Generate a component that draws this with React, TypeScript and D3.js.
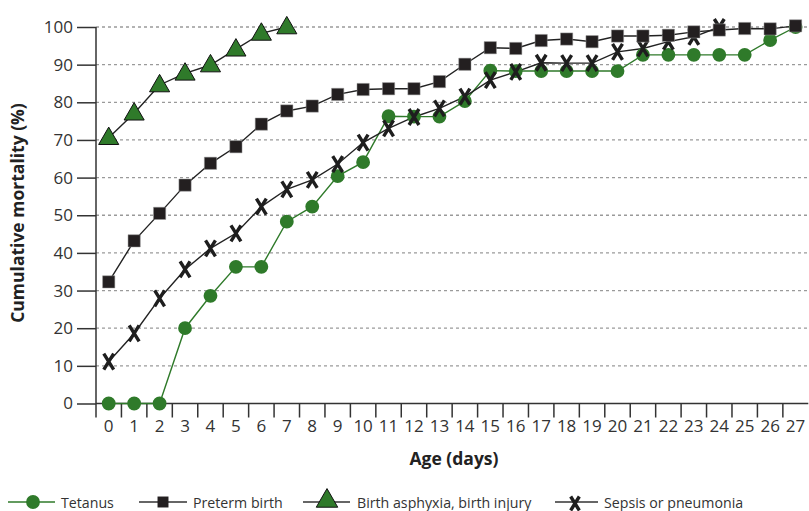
import * as d3 from 'd3';
import { useEffect, useRef } from 'react';

// Age in days, 0..27
const days = d3.range(0, 28);

// Cumulative mortality (%) per cause
const tetanus = [0, 0, 0, 20, 28.6, 36.3, 36.3, 48.3, 52.3, 60.4, 64.1, 76.3, 76.2, 76.2, 80.3, 88.4, 88.3, 88.3, 88.3, 88.3, 88.3, 92.6, 92.6, 92.6, 92.6, 92.6, 96.5, 100];
const preterm = [32.3, 43.2, 50.5, 58, 63.8, 68.2, 74.2, 77.7, 79, 82.1, 83.4, 83.6, 83.6, 85.5, 90.1, 94.5, 94.3, 96.4, 96.8, 96.1, 97.6, 97.6, 97.8, 98.7, 99.2, 99.6, 99.5, 100.3];
const asphyxia = [70.6, 77.1, 84.6, 87.7, 89.9, 94.1, 98.3, 100];
const sepsis = [11.1, 18.6, 27.9, 35.6, 41.2, 45.2, 52.3, 56.9, 59.4, 63.6, 69.3, 73.1, 76.1, 78.4, 81.5, 85.9, 88.1, 90.5, 90.4, 90.4, 93.4, 94.3, 96.1, 97.4, 100];

const yTicks = [0, 10, 20, 30, 40, 50, 60, 70, 80, 90, 100];

const GREEN = '#2f7a2a';
const FONT = "'Open Sans', sans-serif";

export default function App() {
  const ref = useRef<SVGSVGElement>(null);

  useEffect(() => {
    const svg = d3.select(ref.current);
    svg.selectAll('*').remove();

    const SIZES = { LEFT: 96, RIGHT: 808.3, TOP: 27, BOTTOM: 403.5 };

    const x = d3.scaleBand<number>().domain(days).range([SIZES.LEFT, SIZES.RIGHT]);
    const cx = (d: number) => (x(d) ?? 0) + x.bandwidth() / 2;
    const y = d3.scaleLinear().domain([0, 100]).range([SIZES.BOTTOM, SIZES.TOP]);

    // Grid
    svg
      .append('g')
      .selectAll('line')
      .data(yTicks.filter((t) => t > 0))
      .join('line')
      .attr('x1', SIZES.LEFT)
      .attr('x2', 809)
      .attr('y1', (d) => y(d))
      .attr('y2', (d) => y(d))
      .attr('stroke', '#9a9a9a')
      .attr('stroke-width', 1.3)
      .attr('stroke-dasharray', '3,3');

    // Y axis
    const yAxis = svg.append('g').attr('transform', `translate(${SIZES.LEFT},0)`);
    yAxis
      .call(d3.axisLeft(y).tickValues(yTicks).tickSize(19).tickPadding(4))
      .call((g) => g.select('.domain').remove());
    yAxis.selectAll('line').attr('stroke', '#333').attr('stroke-width', 1.5);
    yAxis.selectAll('text').attr('font-family', FONT).attr('font-size', 17).attr('fill', '#333');
    svg
      .append('line')
      .attr('x1', SIZES.LEFT)
      .attr('x2', SIZES.LEFT)
      .attr('y1', y(100))
      .attr('y2', SIZES.BOTTOM + 14)
      .attr('stroke', '#333')
      .attr('stroke-width', 1.5);

    // X axis: ticks on band edges, labels in band centres
    const xAxis = svg.append('g');
    xAxis
      .append('line')
      .attr('x1', SIZES.LEFT)
      .attr('x2', SIZES.RIGHT)
      .attr('y1', SIZES.BOTTOM)
      .attr('y2', SIZES.BOTTOM)
      .attr('stroke', '#333')
      .attr('stroke-width', 1.5);
    xAxis
      .selectAll('line.tick')
      .data(days.slice(1))
      .join('line')
      .attr('class', 'tick')
      .attr('x1', (d) => x(d) ?? 0)
      .attr('x2', (d) => x(d) ?? 0)
      .attr('y1', SIZES.BOTTOM)
      .attr('y2', SIZES.BOTTOM + 14)
      .attr('stroke', '#333')
      .attr('stroke-width', 1.5);
    xAxis
      .selectAll('text')
      .data(days)
      .join('text')
      .attr('x', (d) => cx(d))
      .attr('y', 432)
      .attr('text-anchor', 'middle')
      .attr('font-family', FONT)
      .attr('font-size', 17)
      .attr('fill', '#333')
      .text((d) => d);

    // Axis titles
    svg
      .append('text')
      .attr('x', 454)
      .attr('y', 465)
      .attr('text-anchor', 'middle')
      .attr('font-family', FONT)
      .attr('font-weight', 'bold')
      .attr('font-size', 17.5)
      .attr('fill', '#222')
      .text('Age (days)');
    svg
      .append('text')
      .attr('transform', 'translate(24,213) rotate(-90)')
      .attr('text-anchor', 'middle')
      .attr('font-family', FONT)
      .attr('font-weight', 'bold')
      .attr('font-size', 17.5)
      .attr('fill', '#222')
      .text('Cumulative mortality (%)');

    // Markers
    const sym = {
      circle: d3.symbol(d3.symbolCircle, 150)(),
      square: d3.symbol(d3.symbolSquare, 150)(),
      triangle: d3.symbol(d3.symbolTriangle, 175)(),
    };
    const drawX = (g: any, s: number) => {
      g.append('path')
        .attr('d', `M${-s * 0.62},${-s}L${s * 0.62},${s}M${s * 0.62},${-s}L${-s * 0.62},${s}`)
        .attr('stroke', '#1e1e1e')
        .attr('stroke-width', 3.4)
        .attr('fill', 'none');
    };

    const series = [
      { name: 'Tetanus', values: tetanus, color: GREEN, lineW: 1.4, marker: 'circle' },
      { name: 'Sepsis or pneumonia', values: sepsis, color: '#222', lineW: 1.4, marker: 'x' },
      { name: 'Preterm birth', values: preterm, color: '#222', lineW: 1.4, marker: 'square' },
      { name: 'Birth asphyxia, birth injury', values: asphyxia, color: '#222', lineW: 1.4, marker: 'triangle' },
    ];

    const line = d3
      .line<number>()
      .x((_, i) => cx(days[i]))
      .y((d) => y(d));

    series.forEach((s) => {
      svg
        .append('path')
        .attr('d', line(s.values))
        .attr('fill', 'none')
        .attr('stroke', s.color)
        .attr('stroke-width', s.lineW);
    });

    series.forEach((s) => {
      const g = svg
        .append('g')
        .selectAll('g')
        .data(s.values)
        .join('g')
        .attr('transform', (d, i) => `translate(${cx(days[i])},${y(d) + (s.marker === 'triangle' ? 1 : 0)})`);
      if (s.marker === 'x') {
        g.each(function () {
          drawX(d3.select(this), 8);
        });
      } else if (s.marker === 'circle') {
        g.append('path').attr('d', sym.circle).attr('fill', GREEN);
      } else if (s.marker === 'square') {
        g.append('path').attr('d', sym.square).attr('fill', '#231f20').attr('stroke', '#999').attr('stroke-width', 0.5);
      } else {
        g.append('path').attr('d', sym.triangle).attr('fill', GREEN).attr('stroke', '#111').attr('stroke-width', 1);
      }
    });

    // Legend
    const legend = [
      { name: 'Tetanus', marker: 'circle', x1: 8, x2: 55, mx: 33, tx: 61, color: GREEN },
      { name: 'Preterm birth', marker: 'square', x1: 139, x2: 187, mx: 163, tx: 193, color: '#333' },
      { name: 'Birth asphyxia, birth injury', marker: 'triangle', x1: 303, x2: 350, mx: 327, tx: 357, color: '#333' },
      { name: 'Sepsis or pneumonia', marker: 'x', x1: 555, x2: 598, mx: 575, tx: 604, color: '#333' },
    ];
    const ly = 502;
    legend.forEach((l) => {
      const g = svg.append('g');
      g.append('line')
        .attr('x1', l.x1)
        .attr('x2', l.x2)
        .attr('y1', ly)
        .attr('y2', ly)
        .attr('stroke', l.color)
        .attr('stroke-width', 1.4);
      const m = g.append('g').attr('transform', `translate(${l.mx},${ly + (l.marker === 'x' ? 1.5 : l.marker === 'triangle' ? -1 : 0)})`);
      if (l.marker === 'x') drawX(m, 7);
      else if (l.marker === 'circle') m.append('path').attr('d', sym.circle).attr('fill', GREEN);
      else if (l.marker === 'square') m.append('path').attr('d', d3.symbol(d3.symbolSquare, 120)()).attr('fill', '#231f20');
      else m.append('path').attr('d', d3.symbol(d3.symbolTriangle, 200)()).attr('fill', GREEN).attr('stroke', '#111');
      g.append('text')
        .attr('x', l.tx)
        .attr('y', ly + 5.5)
        .attr('font-family', FONT)
        .attr('font-size', 14.2)
        .attr('fill', '#333')
        .text(l.name);
    });
  }, []);

  return (
    <svg
      ref={ref}
      width={809}
      height={511}
      style={{ position: 'absolute', left: 0, top: 0, background: '#fff' }}
    />
  );
}
